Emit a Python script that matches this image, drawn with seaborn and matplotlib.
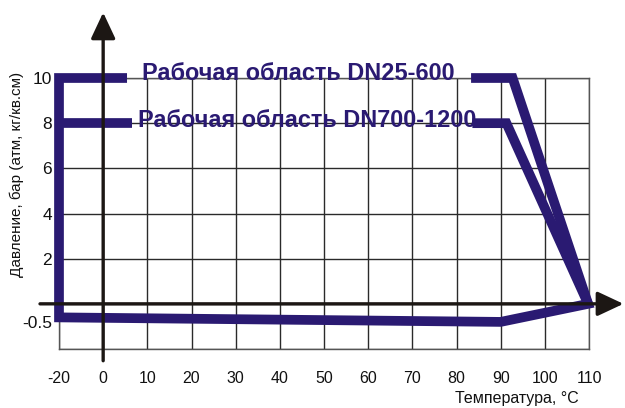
import numpy as np
import pandas as pd
import matplotlib
matplotlib.use("Agg")
import matplotlib.pyplot as plt
import matplotlib.transforms as mtransforms
from matplotlib import font_manager
import seaborn as sns

# ---- data ----
x_ticks = [-20, 0, 10, 20, 30, 40, 50, 60, 70, 80, 90, 100, 110]
y_ticks = [-0.5, 2, 4, 6, 8, 10]
y_grid = [-2, 0, 2, 4, 6, 8, 10]

# DN25-600 working area outline (temperature, pressure)
dn25_temp = [5.4, -20, -20, 90, 109.8, 92.7, 83.3]
dn25_pres = [10, 10, -0.6, -0.8, 0.0, 10, 10]
# DN700-1200: left stub and right part (bottom is shared with DN25-600)
dn700_left_temp = [-20, 6.5]
dn700_left_pres = [8, 8]
dn700_right_temp = [83.6, 91.3, 109.8]
dn700_right_pres = [8, 8, 0.0]

label_25 = "Рабочая область DN25-600"
label_700 = "Рабочая область DN700-1200"
x_label = "Температура, °C"
y_label = "Давление, бар (атм, кг/кв.см)"

PURPLE = "#2a1a72"
BLACK = "#1c1714"
GRID = "#2a2a2a"

sns.set_style("white")
plt.rcParams["font.family"] = ["Liberation Sans", "DejaVu Sans"]

names = {f.name for f in font_manager.fontManager.ttflist}
if "Liberation Sans Narrow" in names:
    title_family = ["Liberation Sans Narrow", "Liberation Sans", "DejaVu Sans"]
    title_fs = 21
else:
    title_family = ["Liberation Sans", "DejaVu Sans"]
    title_fs = 16.9

fig = plt.figure(figsize=(6.25, 4.08), dpi=100)
ax = fig.add_axes([59 / 625, (408 - 349) / 408, 530 / 625, 271 / 408])


def fwd(x):
    x = np.asarray(x, dtype=float)
    return np.where(x < 0, x / 2.0, x)


def inv(u):
    u = np.asarray(u, dtype=float)
    return np.where(u < 0, u * 2.0, u)


ax.set_xscale("function", functions=(fwd, inv))
ax.set_xlim(-20, 110)
ax.set_ylim(-2, 10)

# grid
ax.set_xticks(x_ticks)
ax.set_xticklabels([str(v) for v in x_ticks])
ax.set_yticks(y_ticks)
ax.set_yticklabels([str(v) if v != int(v) else str(int(v)) for v in y_ticks])
ax.set_yticks(y_grid, minor=True)
ax.yaxis.remove_overlapping_locs = False
ax.grid(False)
ax.xaxis.grid(True, which="major", color=GRID, lw=1.0, zorder=0)
ax.yaxis.grid(True, which="minor", color=GRID, lw=1.0, zorder=0)
ax.yaxis.grid(False, which="major")
ax.set_axisbelow(True)
for s in ax.spines.values():
    s.set_color("#555555")
    s.set_linewidth(1.0)

ax.tick_params(axis="x", which="both", length=0, pad=16, labelsize=11.5, colors="#111111")
ax.tick_params(axis="y", which="both", length=0, pad=5, labelsize=12.5, colors="#111111")

# working area lines
line_kw = dict(color=PURPLE, lw=7, sort=False, estimator=None, legend=False,
               solid_joinstyle="miter", solid_capstyle="butt", zorder=3)
sns.lineplot(x=dn25_temp, y=dn25_pres, ax=ax, **line_kw)
sns.lineplot(x=dn700_left_temp, y=dn700_left_pres, ax=ax, **line_kw)
sns.lineplot(x=dn700_right_temp, y=dn700_right_pres, ax=ax, **line_kw)
for ln in ax.lines:
    ln.set_clip_on(False)

# axis arrows
arrow_kw = dict(arrowstyle="-|>,head_length=16,head_width=7.5", mutation_scale=1,
                lw=2.4, color=BLACK, shrinkA=0, shrinkB=0)
ax.annotate("", xy=(0, 12.9), xytext=(0, -2.52), xycoords="data",
            arrowprops=arrow_kw, annotation_clip=False, zorder=5)
ax.annotate("", xy=(117.8, 0), xytext=(-28.6, 0), xycoords="data",
            arrowprops=arrow_kw, annotation_clip=False, zorder=5)

# area labels
ax.text(8.8, 9.91, label_25, family=title_family, fontsize=title_fs,
        fontweight="bold", color=PURPLE, ha="left", va="baseline", zorder=4)
ax.text(7.8, 7.85, label_700, family=title_family, fontsize=title_fs,
        fontweight="bold", color=PURPLE, ha="left", va="baseline", zorder=4)

# axis labels
ax.set_xlabel(x_label, fontsize=11.5, color="#111111", va="center")
ax.xaxis.set_label_coords((517 - 59) / 530, -(399 - 349) / 271)
ax.set_ylabel(y_label, fontsize=11, color="#111111", va="center")
ax.yaxis.set_label_coords(-(59 - 17) / 530, (349 - 174) / 271)

# shift the "-0.5" label down to where the reference prints it
for lbl in ax.get_yticklabels():
    if lbl.get_text() == "-0.5":
        lbl.set_transform(lbl.get_transform() +
                          mtransforms.ScaledTranslation(0, -6.5 / 100, fig.dpi_scale_trans))

fig.savefig("out.png", dpi=100)
